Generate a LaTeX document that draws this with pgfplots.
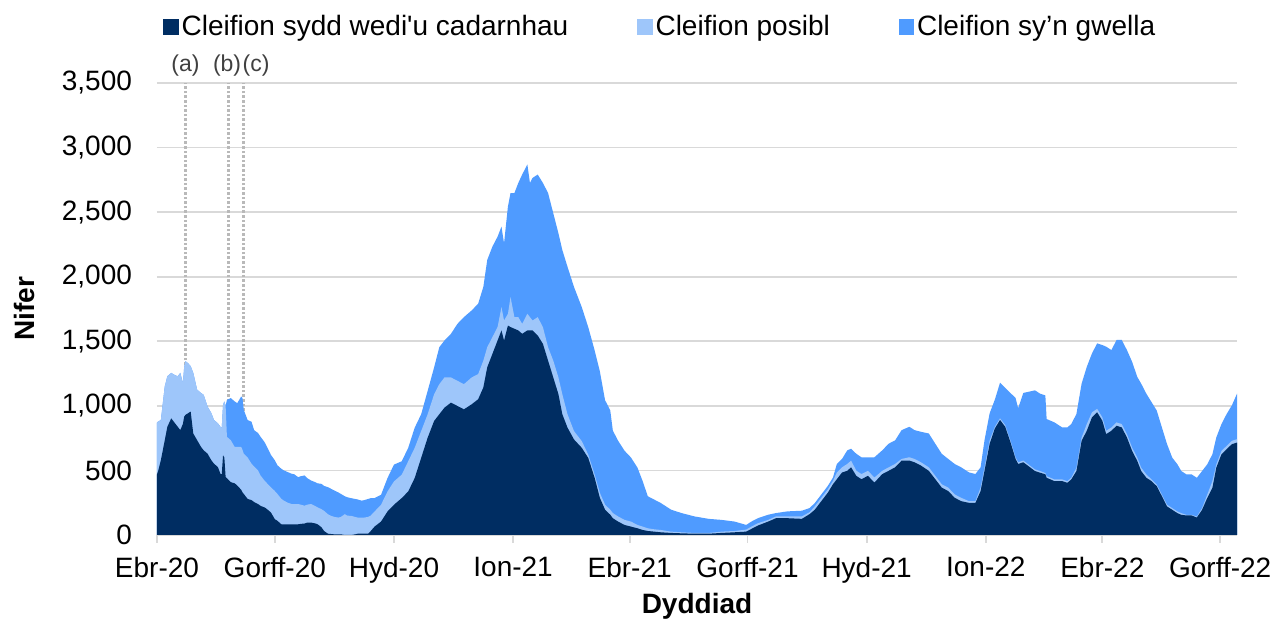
\documentclass[border=0pt]{standalone}
\usepackage{fontspec}
\setmainfont{Liberation Sans}
\newfontfamily\lib{Liberation Sans}
\usepackage{pgfplots}
\usepackage{pgfplotstable}
\pgfplotsset{compat=1.18}
\definecolor{navy}{RGB}{0,45,98}
\definecolor{lightb}{RGB}{158,198,250}
\definecolor{medb}{RGB}{79,155,255}
\definecolor{gridc}{RGB}{217,217,217}
\pgfplotsset{
  sqnavy/.style={legend image code/.code={\fill[navy] (0pt,-3.6pt) rectangle (7.2pt,3.6pt);}},
  sqlight/.style={legend image code/.code={\fill[lightb] (0pt,-3.6pt) rectangle (7.2pt,3.6pt);}},
  sqmed/.style={legend image code/.code={\fill[medb] (0pt,-3.6pt) rectangle (7.2pt,3.6pt);}},
}
% day (0 = 1 Apr 2020), N = confirmed, L = confirmed+possible, T = confirmed+possible+recovering
\pgfplotstableread{
d N L T
0 470 870 870
1 500 880 880
3 580 890 890
6 734 1151 1151
8 838 1229 1229
11 903 1255 1255
13 877 1242 1242
16 838 1229 1229
18 812 1255 1255
20 860 1177 1177
21 917 1300 1300
22 930 1346 1346
24 943 1330 1330
26 956 1307 1307
28 786 1255 1255
31 734 1125 1125
34 682 1099 1099
36 656 1086 1086
39 630 995 995
42 578 943 943
44 552 890 890
47 526 865 865
49 474 838 838
50 470 830 830
51 617 1008 1008
52 600 1034 1034
53 448 1000 1000
54 440 760 1047
57 409 734 1060
60 400 682 1034
62 383 682 1021
65 350 682 1073
66 330 660 1060
67 318 630 969
70 279 600 890
73 270 552 877
75 255 530 812
78 240 500 790
80 225 460 760
83 214 422 720
85 200 400 682
88 174 370 620
91 122 340 578
93 110 318 540
96 83 280 513
98 83 266 500
101 83 250 487
104 83 240 474
106 83 240 470
109 83 240 448
111 86 235 455
114 89 227 461
116 96 235 440
119 96 240 422
122 90 225 410
124 83 214 400
127 60 200 396
129 31 187 380
132 10 161 370
134 8 150 360
137 5 140 344
140 5 135 330
142 5 140 318
145 0 161 300
147 0 150 292
150 0 148 285
153 5 140 279
155 10 135 275
158 10 135 266
160 10 135 270
163 10 140 279
165 30 150 285
168 65 182 286
173 104 234 311
178 182 337 441
183 234 415 545
189 286 467 571
194 337 571 675
199 441 675 831
204 597 805 935
209 753 935 1116
214 883 1090 1298
218 935 1168 1454
222 986 1220 1506
227 1025 1220 1558
232 999 1194 1635
237 973 1168 1687
243 1012 1220 1739
248 1051 1246 1791
252 1142 1350 1921
255 1298 1454 2129
259 1402 1532 2233
263 1506 1610 2310
266 1584 1765 2388
268 1506 1661 2259
271 1622 1713 2544
273 1610 1843 2648
276 1597 1687 2648
279 1584 1687 2726
282 1558 1635 2791
286 1584 1713 2869
288 1584 1687 2726
290 1584 1661 2765
294 1545 1687 2791
298 1480 1610 2726
302 1350 1454 2648
306 1220 1350 2492
310 1090 1220 2336
313 935 1090 2207
317 831 935 2077
322 740 805 1921
328 675 727 1765
333 597 623 1610
338 441 467 1428
342 287 326 1266
346 196 235 1044
350 157 196 966
352 130 170 809
356 104 144 731
361 78 117 653
366 65 104 600
371 52 78 522
375 39 65 418
379 31 52 300
384 26 44 274
389 21 39 248
397 16 26 196
405 13 21 170
415 10 16 144
426 10 16 125
436 16 26 117
446 21 31 104
455 26 42 78
459 47 65 104
464 73 91 130
472 104 117 157
478 130 144 170
487 130 144 183
498 125 144 188
504 162 177 209
508 196 222 248
513 262 288 314
518 327 353 380
522 393 419 445
525 432 484 550
529 484 524 589
533 497 550 655
536 524 576 668
540 458 498 629
544 432 472 602
549 458 497 602
554 406 445 602
560 471 497 655
565 497 524 707
570 524 550 733
575 576 589 812
581 576 602 838
585 563 589 812
590 537 563 799
596 497 524 786
601 432 458 707
606 367 393 629
611 340 367 589
616 288 314 550
621 262 288 524
627 249 262 485
632 249 262 472
636 340 367 524
639 497 524 733
643 707 733 943
647 825 838 1048
651 891 904 1179
655 838 851 1140
659 720 733 1100
663 589 602 1061
665 550 563 982
669 563 576 1100
678 495 508 1120
682 482 495 1094
686 470 480 1081
687 443 456 898
693 417 430 872
699 417 430 833
703 404 417 833
706 430 443 859
710 495 521 937
714 729 755 1172
718 807 859 1302
722 911 950 1406
726 950 977 1484
730 885 911 1471
733 781 807 1458
737 807 833 1432
741 846 872 1510
745 833 859 1510
749 755 781 1432
753 651 677 1341
757 573 599 1224
760 495 521 1172
764 443 469 1094
768 417 430 1029
772 378 391 964
776 300 312 833
780 221 234 703
784 195 208 599
788 169 182 547
791 156 169 495
795 151 156 469
799 151 156 469
803 135 143 443
807 195 208 495
811 286 312 547
815 365 417 625
818 521 547 755
822 625 651 859
826 664 690 937
830 703 729 1003
834 716 742 1094
}\data
\begin{document}
\begin{tikzpicture}[font=\lib]
\begin{axis}[
  scale only axis, width=540pt, height=226pt,
  xmin=0, xmax=834, ymin=0, ymax=3500,
  clip=false,
  axis x line*=bottom, axis y line*=left,
  axis line style={-},
  x axis line style={draw=gridc, line width=0.9pt},
  y axis line style={draw=none},
  ytick={0,500,...,3500},
  ytick style={draw=none},
  xtick={0,91,183,275,365,456,548,640,730,821},
  xticklabels={Ebr-20,Gorff-20,Hyd-20,Ion-21,Ebr-21,Gorff-21,Hyd-21,Ion-22,Ebr-22,Gorff-22},
  xtick style={draw=gridc, line width=0.9pt},
  tick align=outside, major tick length=4pt,
  ymajorgrids, grid style={draw=gridc, line width=0.9pt},
  /pgf/number format/assume math mode=true,
  /pgf/number format/1000 sep={,},
  tick label style={font=\lib\fontsize{14}{16}\selectfont, text=black},
  yticklabel style={xshift=-5pt},
  xticklabel style={yshift=-3.5pt},
  xlabel={Dyddiad}, ylabel={Nifer},
  xlabel style={font=\lib\bfseries\fontsize{14}{16}\selectfont, at={(axis description cs:0.5,-0.128)}, anchor=north, inner sep=0pt},
  ylabel style={font=\lib\bfseries\fontsize{14}{16}\selectfont, at={(axis description cs:-0.113,0.5)}, anchor=south, inner sep=0pt},
  legend columns=3,
  legend style={at={(axis description cs:0.0056,1.124)}, anchor=west, draw=none, fill=none,
    font=\lib\fontsize{14}{16}\selectfont, inner xsep=0pt,
    /tikz/every even column/.append style={column sep=33pt},
    nodes={inner xsep=1.5pt}},
]
\addplot[forget plot, draw=gray!55, line width=1.3pt, densely dotted] coordinates {(22,0) (22,3500)};
\addplot[forget plot, draw=gray!55, line width=1.3pt, densely dotted] coordinates {(55,0) (55,3500)};
\addplot[forget plot, draw=gray!55, line width=1.3pt, densely dotted] coordinates {(67,0) (67,3500)};
\addplot[forget plot, fill=medb, draw=none] table[x=d,y=T] {\data} \closedcycle;
\addplot[forget plot, fill=lightb, draw=none] table[x=d,y=L] {\data} \closedcycle;
\addplot[forget plot, fill=navy, draw=none] table[x=d,y=N] {\data} \closedcycle;
\addlegendimage{sqnavy}
\addlegendentry{Cleifion sydd wedi'u cadarnhau}
\addlegendimage{sqlight}
\addlegendentry{Cleifion posibl}
\addlegendimage{sqmed}
\addlegendentry{Cleifion sy’n gwella}
\node[font=\lib\fontsize{11.5}{13}\selectfont, text=black!75, inner xsep=0pt] at (axis cs:22,3633) {(a)};
\node[font=\lib\fontsize{11.5}{13}\selectfont, text=black!75, inner xsep=0pt, anchor=east] at (axis cs:65.3,3633) {(b)};
\node[font=\lib\fontsize{11.5}{13}\selectfont, text=black!75, inner xsep=0pt, anchor=west] at (axis cs:65.8,3633) {(c)};
\end{axis}
\pgfresetboundingbox
\path ([shift={(-78.5pt,-42pt)}]current axis.south west) rectangle ([shift={(20pt,41.5pt)}]current axis.north east);
\end{tikzpicture}
\end{document}
